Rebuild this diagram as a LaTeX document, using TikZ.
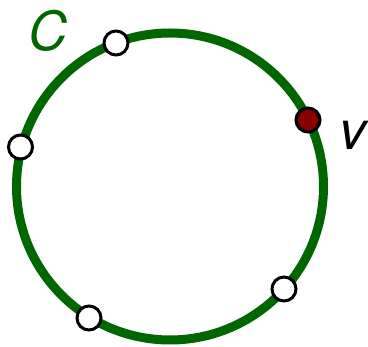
\documentclass[tikz,border=0pt]{standalone}
\usepackage{fontspec}
\setmainfont{TeX Gyre Heros}
\definecolor{cgreen}{RGB}{0,102,0}
\definecolor{vred}{RGB}{135,0,0}
\begin{document}
\begin{tikzpicture}[x=1pt,y=-1pt,
  vtx/.style={circle,draw=black,line width=3pt,fill=white,minimum size=24pt,inner sep=0pt},
  vsel/.style={vtx,fill=vred},
  lbl/.style={font=\fontsize{54}{54}\selectfont\itshape,inner sep=0pt}]
\useasboundingbox (0,0) rectangle (368,347);
\coordinate (o) at (170,186.5);
\draw[cgreen,line width=9pt] (o) circle[radius=153.5];
\node[vtx] (a) at (116,43) {};
\node[vtx] (b) at (20.5,147) {};
\node[vsel] (v) at (308,120) {};
\node[vtx] (d) at (284,289) {};
\node[vtx] (e) at (89,318) {};
\node[lbl,text=cgreen] (C) at (48,31) {C};
\node[lbl] (vl) at (353,135) {v};
\end{tikzpicture}
\end{document}
